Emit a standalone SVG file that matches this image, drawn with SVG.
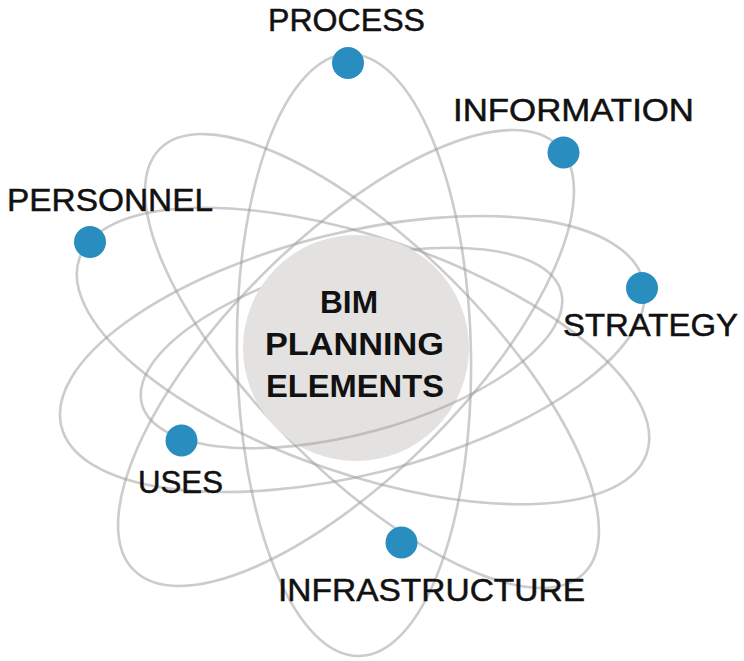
<svg xmlns="http://www.w3.org/2000/svg" width="744" height="661" viewBox="0 0 744 661">
<style>
.orbit{fill:none;stroke:#9a9a9a;stroke-opacity:0.5;stroke-width:2.6}
.dot{fill:#2a8dbf}
.lbl{font-family:"Liberation Sans",Arial,sans-serif;font-size:32px;fill:#111;stroke:#111;stroke-width:0.5}
.core{font-family:"Liberation Sans",Arial,sans-serif;font-size:32px;font-weight:bold;fill:#111}
</style>
<rect width="744" height="661" fill="#ffffff"/>
<g id="connectors">
  <g id="orbits-back">
    <ellipse class="orbit" cx="0" cy="0" rx="300" ry="118" transform="translate(346 358) rotate(-45)"/>
    <ellipse class="orbit" cx="0" cy="0" rx="300" ry="118" transform="translate(363 356) rotate(19)"/>
    <ellipse class="orbit" cx="0" cy="0" rx="300" ry="121" transform="translate(352.5 354) rotate(-14)"/>
    <ellipse class="orbit" cx="0" cy="0" rx="300" ry="114" transform="translate(372 361) rotate(45)"/>
    <path class="orbit" d="M -217 0 A 217 86 0 0 1 217 0" transform="translate(351.5 348) rotate(-15)"/>
  </g>
</g>
<g id="core">
  <circle cx="356" cy="348" r="113" fill="#e3e2e0"/>
  <text class="core" x="320" y="313" textLength="58" lengthAdjust="spacingAndGlyphs">BIM</text>
  <text class="core" x="265" y="355" textLength="179" lengthAdjust="spacingAndGlyphs">PLANNING</text>
  <text class="core" x="266" y="397" textLength="178" lengthAdjust="spacingAndGlyphs">ELEMENTS</text>
</g>
<g id="connectors-front">
  <ellipse class="orbit" cx="354" cy="355" rx="117" ry="301" transform="rotate(-1 354 355)"/>
  <path class="orbit" d="M -217 0 A 217 86 0 0 0 217 0" transform="translate(351.5 348) rotate(-15)"/>
</g>
<g id="process">
  <circle class="dot" cx="348" cy="63" r="16"/>
  <text class="lbl" x="268" y="31" textLength="157" lengthAdjust="spacingAndGlyphs">PROCESS</text>
</g>
<g id="information">
  <circle class="dot" cx="563.5" cy="152.5" r="16"/>
  <text class="lbl" x="453" y="121" textLength="241" lengthAdjust="spacingAndGlyphs">INFORMATION</text>
</g>
<g id="personnel">
  <circle class="dot" cx="90" cy="242" r="16"/>
  <text class="lbl" x="7" y="211" textLength="206" lengthAdjust="spacingAndGlyphs">PERSONNEL</text>
</g>
<g id="strategy">
  <circle class="dot" cx="642" cy="288" r="16"/>
  <text class="lbl" x="563" y="336" textLength="175" lengthAdjust="spacingAndGlyphs">STRATEGY</text>
</g>
<g id="uses">
  <circle class="dot" cx="181.5" cy="440.5" r="16"/>
  <text class="lbl" x="138" y="493" textLength="85" lengthAdjust="spacingAndGlyphs">USES</text>
</g>
<g id="infrastructure">
  <circle class="dot" cx="401.5" cy="542.5" r="16"/>
  <text class="lbl" x="278" y="601" textLength="307" lengthAdjust="spacingAndGlyphs">INFRASTRUCTURE</text>
</g>
</svg>
